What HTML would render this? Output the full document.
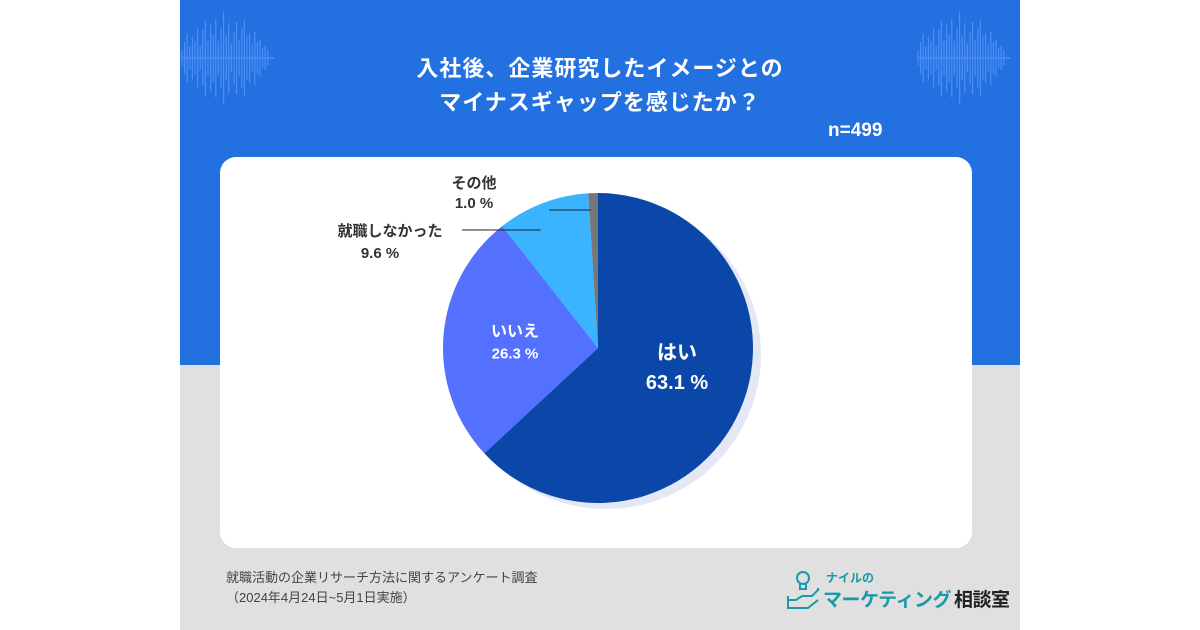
<!DOCTYPE html>
<html><head><meta charset="utf-8"><style>
body{margin:0;width:1200px;height:630px;background:#fff;position:relative;overflow:hidden;font-family:"Liberation Sans","Noto Sans CJK JP",sans-serif}
.abs{position:absolute}
</style></head><body>
<div class="abs" style="left:180px;top:0;width:840px;height:365px;background:#2370e0"></div>
<div class="abs" style="left:180px;top:365px;width:840px;height:265px;background:#e0e0e0"></div>
<svg class="abs" style="left:180px;top:0" width="840" height="110">
<g stroke="#4f8ff5" stroke-width="1.2" id="w"></g>
</svg>
<div class="abs" style="left:180px;top:52px;width:840px;text-align:center;color:#fff;font-weight:bold;font-size:22px;line-height:34px;letter-spacing:1px">入社後、企業研究したイメージとの<br>マイナスギャップを感じたか？</div>
<div class="abs" style="left:828px;top:120px;color:#fff;font-weight:bold;font-size:19px">n=499</div>
<div class="abs" style="left:220px;top:157px;width:752px;height:391px;background:#fff;border-radius:16px"></div>
<svg class="abs" style="left:0;top:0" width="1200" height="630" id="pie"></svg>
<div class="abs" style="left:226px;top:568px;font-size:13px;color:#444;line-height:20px">就職活動の企業リサーチ方法に関するアンケート調査<br>（2024年4月24日~5月1日実施）</div>
<div class="abs" style="left:786px;top:566px;width:215px;height:50px">
<svg class="abs" style="left:0;top:0" width="34" height="44"><g fill="none" stroke="#1a9aa8" stroke-width="2"><circle cx="17" cy="12" r="6"/><path d="M14 18v5h6v-5"/><path d="M2 34h8l6 -4h10l6-6v-2"/><path d="M2 30v12h20l10-8"/></g></svg>
<div class="abs" style="left:40px;top:3px;font-size:12px;font-weight:bold;color:#1a9aa8">ナイルの</div>
<div class="abs" style="left:37px;top:19px;font-size:19px;font-weight:bold;color:#1a9aa8;white-space:nowrap;letter-spacing:-0.5px">マーケティング<span style="color:#222;margin-left:3px">相談室</span></div>
</div>
<script>
const categories=["はい","いいえ","就職しなかった","その他"];
const values=[63.1,26.3,9.6,1.0];
const labels=["63.1 %","26.3 %","9.6 %","1.0 %"];
const colors=["#0a47a8","#5470ff","#3ab4ff","#777777"];
const NS="http://www.w3.org/2000/svg";
const svg=document.getElementById('pie');
const cx=598,cy=348,r=155;
const total=values.reduce((a,b)=>a+b,0);
function pt(a,rr,dx=0,dy=0){return [cx+dx+rr*Math.sin(a),cy+dy-rr*Math.cos(a)];}
const sh=document.createElementNS(NS,'circle');
sh.setAttribute('cx',cx+8);sh.setAttribute('cy',cy+6);sh.setAttribute('r',r);sh.setAttribute('fill','#e4e8f5');


svg.appendChild(sh);
let a0=0;const mids=[];
values.forEach((v,i)=>{
 const a1=a0+v/total*2*Math.PI;
 const p0=pt(a0,r),p1=pt(a1,r);
 const p=document.createElementNS(NS,'path');
 p.setAttribute('d',`M${cx},${cy}L${p0[0]},${p0[1]}A${r},${r} 0 ${a1-a0>Math.PI?1:0} 1 ${p1[0]},${p1[1]}Z`);
 p.setAttribute('fill',colors[i]);
 
 
 svg.appendChild(p);
 mids.push((a0+a1)/2);a0=a1;
});
function txt(x,y,s,size,fill,anchor){const t=document.createElementNS(NS,'text');t.setAttribute('x',x);t.setAttribute('y',y);t.setAttribute('font-size',size);t.setAttribute('font-weight','bold');t.setAttribute('fill',fill);t.setAttribute('text-anchor',anchor);t.textContent=s;


svg.appendChild(t);}
let q=pt(mids[0],r*0.5);
txt(q[0]+8,q[1]-20,categories[0],20,'#fff','middle');txt(q[0]+8,q[1]+10,labels[0],20,'#fff','middle');
q=pt(mids[1],r*0.55);
txt(q[0]+2,q[1]-5,categories[1],16,'#fff','middle');txt(q[0]+2,q[1]+17,labels[1],15,'#fff','middle');
function line(x1,y1,x2,y2){const l=document.createElementNS(NS,'line');l.setAttribute('x1',x1);l.setAttribute('y1',y1);l.setAttribute('x2',x2);l.setAttribute('y2',y2);l.setAttribute('stroke','#222');l.setAttribute('stroke-width','1');


svg.appendChild(l);}
q=pt(mids[2],r);line(462,230,q[0]-2,230);
txt(390,236,categories[2],15,'#333','middle');txt(380,258,labels[2],15,'#333','middle');
q=pt(mids[3],r);line(549,210,q[0]-2,210);
txt(474,188,categories[3],15,'#333','middle');txt(474,208,labels[3],15,'#333','middle');
const w=document.getElementById('w');
const hs=[6,18,28,10,20,14,26,8,22,30,12,24,16,28,10,20,32,14,24,8,18,26,12,22,30,16,20,10,24,14,18,8,12,6];
[2,738].forEach(s=>{hs.forEach((h0,k)=>{const x=s+k*2.6;const env=Math.sin(Math.PI*(k+1)/(hs.length+1));const h=4+h0*(0.4+0.6*env)*1.3;
const l=document.createElementNS(NS,'line');l.setAttribute('x1',x);l.setAttribute('x2',x);l.setAttribute('y1',58-h);l.setAttribute('y2',58+h);w.appendChild(l);});
const c=document.createElementNS(NS,'line');c.setAttribute('x1',s);c.setAttribute('x2',s+92);c.setAttribute('y1',58);c.setAttribute('y2',58);w.appendChild(c);});
</script>
</body></html>
